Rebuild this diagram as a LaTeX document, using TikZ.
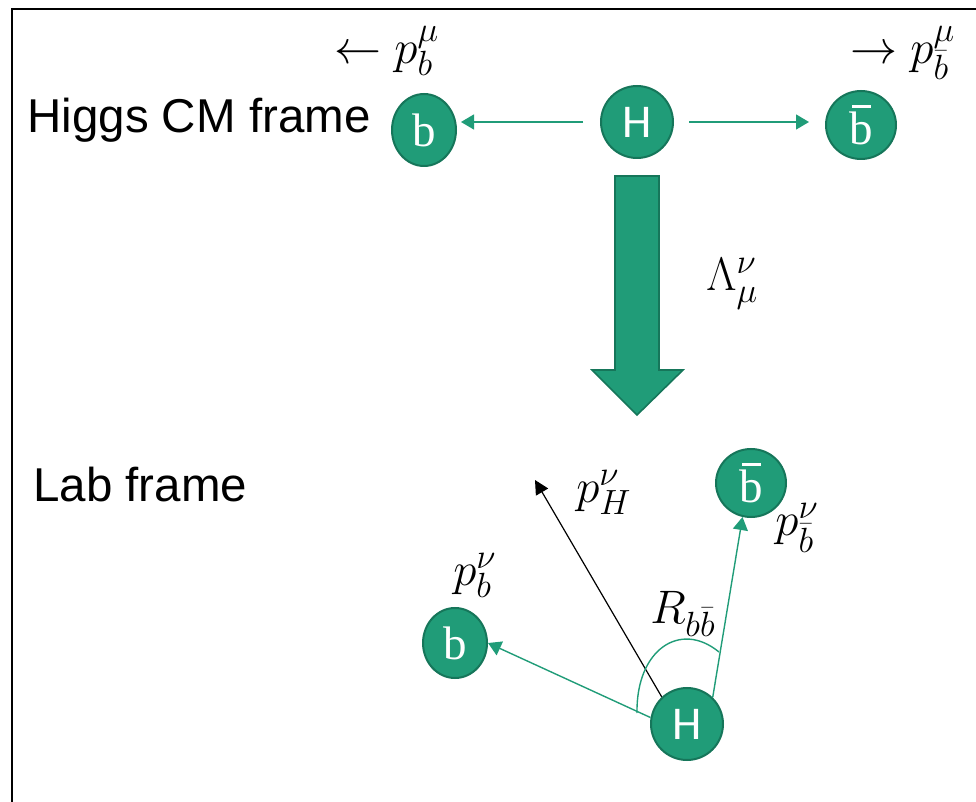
\RequirePackage{fix-cm}
\documentclass[tikz,border=0pt]{standalone}
\usepackage{fontspec}
\setmainfont{Liberation Sans}
\newfontfamily\circsans{Carlito}
\newfontfamily\circserif{Liberation Serif}
\usetikzlibrary{shapes.geometric,arrows.meta}
\DeclareMathSizes{23.5}{23.5}{17.5}{13}
\definecolor{hgreen}{RGB}{32,156,120}
\definecolor{hborder}{RGB}{22,118,90}
\newcommand\serb{{\circserif b}}
\newcommand\barb{{\circserif\makebox[0pt][l]{\hspace{0.06em}\rule[0.78em]{0.40em}{0.055em}}b}}
\newcommand\lowbarb{\raisebox{-2.5pt}{$\scriptstyle\bar b$}}
\tikzset{
  particle/.style={ellipse, fill=hgreen, draw=hborder, line width=1pt, inner sep=0pt,
    text=white, font=\circsans\fontsize{23.5}{23.5}\selectfont},
  garrow/.style={hgreen, line width=0.7pt, -{Triangle[length=6.5pt,width=7.5pt]}},
  karrow/.style={black, line width=0.6pt, -{Triangle[length=7pt,width=7pt]}},
  frametext/.style={anchor=base west, inner sep=0pt, font=\fontsize{23.75}{24}\selectfont},
  mathlabel/.style={anchor=base west, inner sep=0pt, font=\fontsize{23.5}{23.5}\selectfont},
}
\begin{document}
\begin{tikzpicture}[x=0.5pt,y=-0.5pt]
\useasboundingbox (0,0) rectangle (976,802);
% frame
\draw[line width=1pt] (12,802) -- (12,9) -- (976,9);
% Higgs CM frame
\node[frametext] (cmtext) at (27,133) {Higgs CM frame};
\node[particle, minimum width=32pt, minimum height=36pt] (b1) at (424,130) {\serb};
\node[particle, minimum width=36pt, minimum height=36pt] (H1) at (637,122) {H};
\node[particle, minimum width=35pt, minimum height=34pt] (bb1) at (861,125) {\barb};
\draw[garrow] ([xshift=-8.5pt]H1.west) -- ([xshift=2pt]b1.east |- H1.west);
\draw[garrow] ([xshift=7.5pt]H1.east) -- ([xshift=-8pt]bb1.west |- H1.east);
\node[mathlabel] (lpb) at (334,64) {$\leftarrow p_b^{\mu}$};
\node[mathlabel] (lpbb) at (850,64) {$\rightarrow p_{\lowbarb}^{\mu}$};
% big arrow
\draw[fill=hgreen, draw=hborder, line width=0.8pt, line join=miter]
  (615,176) -- (659,176) -- (659,370) -- (683,370) -- (637,415) -- (592,370) -- (615,370) -- cycle;
\node[mathlabel] (lam) at (706,291) {$\Lambda_{\mu}^{\nu}$};
% Lab frame
\node[frametext] (labtext) at (33,502) {Lab frame};
\node[particle, minimum width=35pt, minimum height=34pt] (bb2) at (751,483) {\barb};
\node[particle, minimum width=32pt, minimum height=35pt] (b2) at (455,643) {\serb};
\node[particle, minimum width=36pt, minimum height=36pt] (H2) at (687,724) {H};
\coordinate (pH) at (535,480);
\coordinate (arcs) at (637,713);
\coordinate (arce) at (719,652);
\draw[karrow] (H2.133) -- (pH);
\draw[garrow] (H2.170) -- (b2.east);
\draw[garrow] (H2.46) -- (bb2.256);
\draw[hgreen, line width=0.7pt] (arcs) .. controls (636,650) and (680,620) .. (arce);
\node[mathlabel] (lpH) at (576,503) {$p_H^{\nu}$};
\node[mathlabel] (lpb2) at (453,586) {$p_b^{\nu}$};
\node[mathlabel] (lpbb2) at (775,536) {$p_{\lowbarb}^{\nu}$};
\node[mathlabel] (lR) at (650,624) {$R_{b\bar b}$};
\end{tikzpicture}
\end{document}
